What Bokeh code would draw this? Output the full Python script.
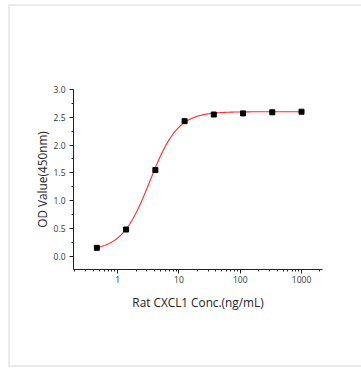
import numpy as np
from bokeh.plotting import figure
from bokeh.models import FixedTicker, NumeralTickFormatter, Range1d
from bokeh.embed import file_html
from bokeh.resources import INLINE

# Data
conc = [0.457, 1.37, 4.12, 12.35, 37.0, 111.1, 333.3, 1000.0]
od = [0.15, 0.48, 1.55, 2.43, 2.55, 2.57, 2.59, 2.60]

# 4PL fit parameters (estimated)
fit_bottom = 0.10
fit_top = 2.60
fit_ec50 = 3.35
fit_hill = 1.9

x_ticks = [1, 10, 100, 1000]
x_minor = [0.2, 0.3, 0.4, 0.5, 0.6, 0.7, 0.8, 0.9] + \
          [m * 10 ** k for k in range(0, 3) for m in range(2, 10)] + [2000]
y_ticks = [0.0, 0.5, 1.0, 1.5, 2.0, 2.5, 3.0]

xc = np.logspace(np.log10(conc[0]), np.log10(conc[-1]), 300)
yc = fit_top + (fit_bottom - fit_top) / (1 + (xc / fit_ec50) ** fit_hill)

p = figure(width=353, height=363, x_axis_type="log",
           output_backend="svg", toolbar_location=None,
           x_range=Range1d(0.19, 2200), y_range=Range1d(-0.24, 3.0),
           min_border_left=63, min_border_right=41,
           min_border_top=83, min_border_bottom=100)
p.styles = {"border-left": "2px solid #ebebeb", "border-bottom": "2px solid #ebebeb",
            "border-top": "2px solid #ebebeb", "margin-left": "8px", "margin-top": "4px"}
p.outline_line_color = None
p.grid.visible = False

p.line(xc, yc, line_color="#ff2a2a", line_width=1.1)
p.scatter(conc, od, marker="square", size=5, fill_color="black", line_color="black")

font = "Open Sans"
xa = p.xaxis[0]
xa.ticker = FixedTicker(ticks=x_ticks, minor_ticks=x_minor)
xa.formatter = NumeralTickFormatter(format="0")
xa.axis_label = "Rat CXCL1 Conc.(ng/mL)"
ya = p.yaxis[0]
ya.ticker = FixedTicker(ticks=y_ticks, minor_ticks=[0.25, 0.75, 1.25, 1.75, 2.25, 2.75, -0.25])
ya.formatter = NumeralTickFormatter(format="0.0")
ya.axis_label = "OD Value(450nm)"

for ax in (xa, ya):
    ax.axis_line_color = "#222222"
    ax.major_tick_line_color = "#222222"
    ax.minor_tick_line_color = "#222222"
    ax.major_tick_out = 4
    ax.major_tick_in = 0
    ax.minor_tick_out = 2
    ax.minor_tick_in = 0
    ax.major_label_text_font = font
    ax.major_label_text_font_size = "8.5px"
    ax.major_label_text_color = "#333333"
    ax.axis_label_text_font = font
    ax.axis_label_text_font_size = "11.8px"
    ax.axis_label_text_font_style = "normal"
    ax.axis_label_text_color = "#222222"
xa.major_label_standoff = 2
xa.axis_label_standoff = 8
ya.major_label_standoff = 4
ya.axis_label_standoff = 1

open("out.html", "w").write(file_html(p, INLINE))
